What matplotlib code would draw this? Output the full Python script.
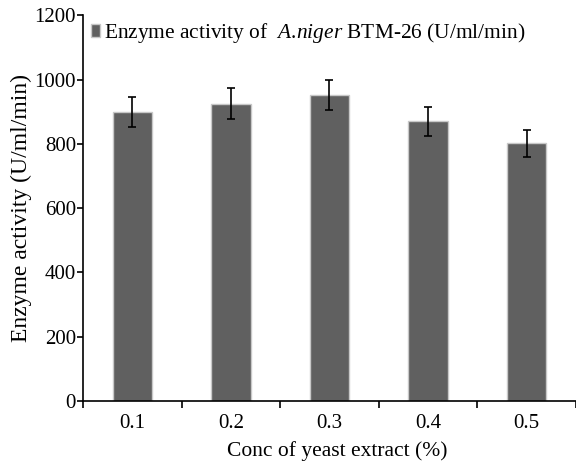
import numpy as np
import matplotlib
matplotlib.use('Agg')
from matplotlib import pyplot as plt

conc = ['0.1', '0.2', '0.3', '0.4', '0.5']
activity = [900, 925, 952, 870, 802]
err = [47, 48, 47, 45, 42]

plt.rcParams['font.family'] = 'Liberation Serif'
plt.rcParams['mathtext.fontset'] = 'custom'
plt.rcParams['mathtext.it'] = 'Liberation Serif:italic'
plt.rcParams['mathtext.rm'] = 'Liberation Serif'

fig = plt.figure(figsize=(5.76, 4.62), dpi=100)
ax = fig.add_axes([0.144, 0.132, 0.856, 0.835])

x = np.arange(len(conc))
ax.bar(x, activity, width=0.4, color='#606060', edgecolor='#c8c8c8', linewidth=1,
       yerr=err, capsize=3, error_kw=dict(ecolor='black', elinewidth=1.2, capthick=1.2),
       label=r'Enzyme activity of  $\it{A{.}\!niger}$ BTM-26 (U/ml/min)')

ax.set_xlim(-0.5, len(conc) - 0.5)
ax.set_ylim(0, 1200)
ax.set_yticks([0, 200, 400, 600, 800, 1000, 1200])
ax.set_xticks(x)
ax.set_xticklabels(conc)
ax.set_xticks(np.arange(-0.5, len(conc), 1), minor=True)
ax.tick_params(axis='x', which='major', length=0, labelsize=15, pad=9)
ax.tick_params(axis='x', which='minor', length=5, width=1.2, direction='out')
ax.tick_params(axis='y', length=4, width=1.2, labelsize=15, pad=1)
for s in ['top', 'right']:
    ax.spines[s].set_visible(False)
ax.spines['left'].set_linewidth(1.2)
ax.spines['bottom'].set_linewidth(1.2)

ax.set_xlabel('Conc of yeast extract (%)', fontsize=15.5, labelpad=5)
ax.xaxis.set_label_coords(0.515, -0.105)
ax.set_ylabel('Enzyme activity (U/ml/min)', fontsize=17, labelpad=2)

ax.legend(loc='upper left', bbox_to_anchor=(-0.022, 1.035), frameon=False, fontsize=15.4,
          handlelength=0.4, handleheight=0.55, handletextpad=0.2)

plt.savefig('out.png', dpi=100)
